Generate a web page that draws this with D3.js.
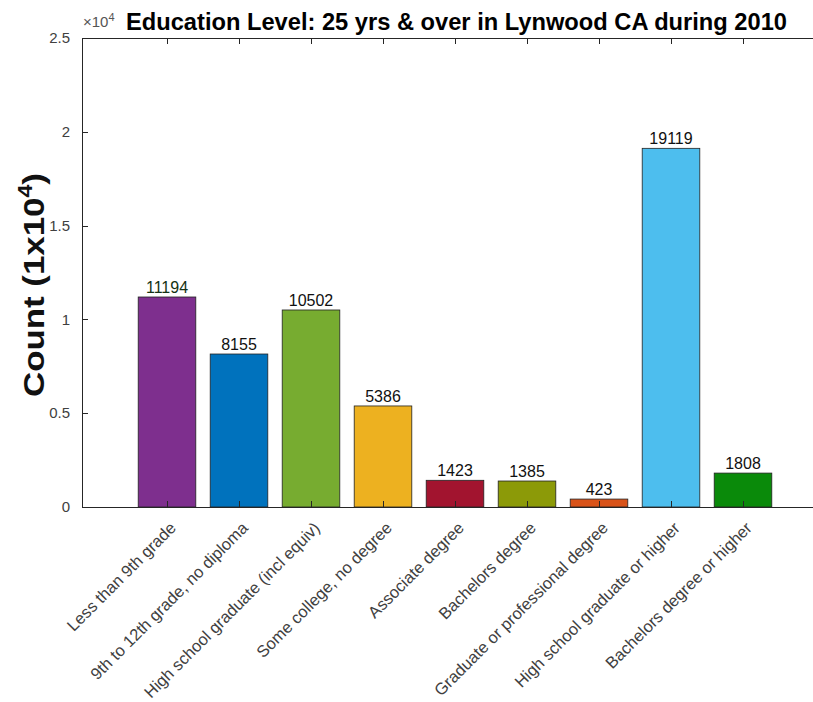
<!DOCTYPE html>
<html><head><meta charset="utf-8">
<script src="https://cdn.jsdelivr.net/npm/d3@7"></script>
<style>body{margin:0;background:#fff;} svg{display:block;}</style>
</head><body>
<script>
const categories = ["Less than 9th grade","9th to 12th grade, no diploma","High school graduate (incl equiv)","Some college, no degree","Associate degree","Bachelors degree","Graduate or professional degree","High school graduate or higher","Bachelors degree or higher"];
const counts = [11194, 8155, 10502, 5386, 1423, 1385, 423, 19119, 1808];
const barColors = ["#7E2F8E","#0072BD","#77AC30","#EDB120","#A2142F","#8C9A08","#D95319","#4DBEEE","#0A8A0A"];
const yTicks = [0, 5000, 10000, 15000, 20000, 25000];
const yTickLabels = ["0","0.5","1","1.5","2","2.5"];
const title = "Education Level: 25 yrs & over in Lynwood CA during 2010";

(function(){
const W = 813, H = 702;
const svg = d3.select("body").append("svg").attr("width", W).attr("height", H);
const mLeft = 82, mRight = 828, mTop = 38, mBottom = 507;
const font = "'Liberation Sans', Arial, Helvetica, sans-serif";

const x = d3.scaleBand().domain(categories).range([131, 779]).paddingInner(0.2).paddingOuter(0.1);
const y = d3.scaleLinear().domain([0, 25000]).range([mBottom, mTop]);

// bars
svg.append("g").selectAll("rect").data(counts).join("rect")
  .attr("x", (d,i) => x(categories[i]))
  .attr("y", d => y(d))
  .attr("width", x.bandwidth())
  .attr("height", d => y(0) - y(d))
  .attr("fill", (d,i) => barColors[i])
  .attr("stroke", "#222").attr("stroke-width", 0.8);

// value labels
svg.append("g").selectAll("text").data(counts).join("text")
  .attr("x", (d,i) => x(categories[i]) + x.bandwidth()/2)
  .attr("y", d => y(d) - 4)
  .attr("text-anchor", "middle")
  .attr("font-family", font).attr("font-size", 16)
  .attr("fill", (d,i) => i === 0 ? "#143214" : "#111")
  .text(d => d);

// axis box lines
const axisColor = "#262626";
svg.append("line").attr("x1", mLeft).attr("x2", mRight).attr("y1", mBottom+0.5).attr("y2", mBottom+0.5).attr("stroke", axisColor);
svg.append("line").attr("x1", mLeft).attr("x2", mRight).attr("y1", mTop+0.5).attr("y2", mTop+0.5).attr("stroke", axisColor);
svg.append("line").attr("x1", mLeft+0.5).attr("x2", mLeft+0.5).attr("y1", mTop).attr("y2", mBottom).attr("stroke", axisColor);

// y ticks
const yg = svg.append("g");
yg.selectAll("line").data(yTicks).join("line")
  .attr("x1", mLeft).attr("x2", mLeft + 6)
  .attr("y1", d => Math.round(y(d))+0.5).attr("y2", d => Math.round(y(d))+0.5)
  .attr("stroke", axisColor);
yg.selectAll("text").data(yTicks).join("text")
  .attr("x", mLeft - 12).attr("y", d => y(d)).attr("dy", "0.35em")
  .attr("text-anchor", "end").attr("font-family", font).attr("font-size", 15)
  .attr("fill", "#404040")
  .text((d,i) => yTickLabels[i]);

// x ticks (bottom and top, inward)
const xg = svg.append("g");
categories.forEach(c => {
  const cx = Math.round(x(c) + x.bandwidth()/2) + 0.5;
  xg.append("line").attr("x1", cx).attr("x2", cx).attr("y1", mBottom).attr("y2", mBottom-6).attr("stroke", axisColor);
  xg.append("line").attr("x1", cx).attr("x2", cx).attr("y1", mTop).attr("y2", mTop+6).attr("stroke", axisColor);
});
xg.selectAll("text.xl").data(categories).join("text")
  .attr("class", "xl")
  .attr("transform", d => `translate(${x(d) + x.bandwidth()/2 + 10},${mBottom + 22}) rotate(-45)`)
  .attr("text-anchor", "end").attr("font-family", font).attr("font-size", 16.5)
  .attr("fill", "#404040")
  .text(d => d);

// exponent label
const ex = svg.append("text").attr("x", 83).attr("y", 27).attr("font-family", font).attr("font-size", 15).attr("fill", "#555");
ex.append("tspan").text("\u00d710");
ex.append("tspan").attr("font-size", 11).attr("dy", -6).text("4");

// title
svg.append("text").attr("x", 126).attr("y", 30)
  .attr("font-family", font).attr("font-weight", "bold").attr("font-size", 23)
  .attr("textLength", 661).attr("lengthAdjust", "spacingAndGlyphs")
  .attr("fill", "#000").text(title);

// y label
const yl = svg.append("text").attr("transform", "translate(44,397) rotate(-90)")
  .attr("text-anchor", "start").attr("font-family", font).attr("font-weight", "bold").attr("font-size", 30).attr("fill", "#111")
  .attr("textLength", 224).attr("lengthAdjust", "spacingAndGlyphs");
yl.append("tspan").text("Count (1x10");
yl.append("tspan").attr("font-size", 20).attr("dy", -12).text("4");
yl.append("tspan").attr("dy", 12).text(")");
})();
</script>
</body></html>
